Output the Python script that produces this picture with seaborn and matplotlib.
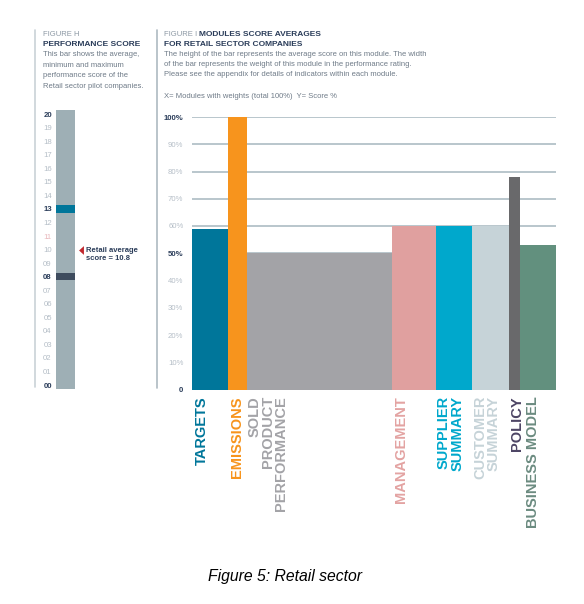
import numpy as np
import pandas as pd
import matplotlib
matplotlib.use("Agg")
import matplotlib.pyplot as plt
import matplotlib.transforms as mtransforms
from matplotlib.lines import Line2D
import seaborn as sns

# ---------------- data ----------------
modules = ["TARGETS", "EMISSIONS", "SOLD\nPRODUCT\nPERFORMANCE", "MANAGEMENT",
           "SUPPLIER\nSUMMARY", "CUSTOMER\nSUMMARY", "POLICY", "BUSINESS MODEL"]
weights = [10, 5, 40, 12, 10, 10, 3, 10]          # % weight (bar width)
scores = [59, 100, 50, 60, 60, 60, 78, 53]        # average score % (bar height)
bar_colors = ["#00769A", "#F7941D", "#A3A3A7", "#E0A09F",
              "#00A8CC", "#C6D3D8", "#69696B", "#62907E"]
label_colors = ["#00769A", "#F7941D", "#A3A3A7", "#E3A3A2",
                "#00A8CC", "#C6D3D8", "#4D4565", "#6B8B80"]
y_ticks = [0, 10, 20, 30, 40, 50, 60, 70, 80, 90, 100]
y_tick_labels = ["0", "10%", "20%", "30%", "40%", "50%", "60%", "70%", "80%", "90%", "100%"]
y_bold = ["0", "50%", "100%"]

perf_ticks = list(range(0, 21))
perf_tick_labels = [f"{v:02d}" for v in perf_ticks]
perf_bold = ["00", "08", "13", "20"]
perf_min, perf_max, perf_avg = 8, 13, 10.8

NAVY = "#2B3D5A"
LIGHT = "#B5BEC7"
GREYTXT = "#6F7B88"

sns.set_theme(style="white")
plt.rcParams["font.family"] = ["Liberation Sans", "DejaVu Sans"]

W, H = 584, 604
fig = plt.figure(figsize=(W / 100, H / 100), dpi=100)


def px_axes(x0, y0, x1, y1):
    return fig.add_axes([x0 / W, 1 - y1 / H, (x1 - x0) / W, (y1 - y0) / H])


def ftext(x, y, s, **kw):
    return fig.text(x / W, 1 - y / H, s, va="center", ha="left", **kw)


# ---------------- main chart ----------------
ax = px_axes(192, 117, 556, 389.5)
edges = np.concatenate([[0], np.cumsum(weights)])
centers = (edges[:-1] + edges[1:]) / 2
df = pd.DataFrame({"module": modules, "weight": weights, "score": scores, "center": centers})
sns.histplot(data=df, x="center", weights="score", bins=[float(e) for e in edges], ax=ax,
             alpha=1, linewidth=0, stat="count")
for p, c in zip(ax.patches, bar_colors):
    p.set_facecolor(c)
    p.set_edgecolor("none")
    p.set_clip_on(False)
    p.set_zorder(2)
ax.set_xlim(0, 100)
ax.set_ylim(0, 100)
ax.set_yticks(y_ticks)
ax.set_yticklabels(y_tick_labels)
for t in ax.get_yticklabels():
    if t.get_text() in y_bold:
        t.set_color(NAVY)
        t.set_fontweight("bold")
    else:
        t.set_color(LIGHT)
ax.tick_params(axis="y", length=0, pad=6.2, labelsize=5.6)
ax.set_xticks([])
ax.set_xlabel("")
ax.set_ylabel("")
ax.yaxis.grid(True, color="#B9C6CC", lw=1.4, zorder=0)
ax.xaxis.grid(False)
ax.set_axisbelow(True)
for s in ax.spines.values():
    s.set_visible(False)

label_dx = [3, 2, 1, 2, 1, 1, 1, 6]
for i, (lab, col) in enumerate(zip(modules, label_colors)):
    tr = ax.transData + mtransforms.ScaledTranslation(label_dx[i] / 100, -6.5 / 100, fig.dpi_scale_trans)
    ax.text(edges[i], 0, lab, transform=tr, rotation=90, ha="left", va="top",
            multialignment="right", fontsize=10.5, fontweight="bold", color=col,
            linespacing=0.95, clip_on=False)

# ---------------- left performance bar ----------------
axL = px_axes(56, 110, 75, 389)
axL.set_ylim(-0.29, 20.3)
axL.set_xlim(0, 1)
axL.set_facecolor("#9EAFB5")
axL.axhspan(perf_max - 0.27, perf_max + 0.27, color="#00769A", lw=0)
axL.axhspan(perf_min - 0.27, perf_min + 0.27, color="#3E4C5E", lw=0)
axL.set_yticks(perf_ticks)
axL.set_yticklabels(perf_tick_labels)
for t in axL.get_yticklabels():
    if t.get_text() in perf_bold:
        t.set_color(NAVY)
        t.set_fontweight("bold")
    elif t.get_text() == f"{round(perf_avg):02d}":
        t.set_color("#E9B8BC")
    else:
        t.set_color(LIGHT)
axL.tick_params(axis="y", length=0, pad=3, labelsize=5.6)
axL.set_xticks([])
axL.grid(False)
for s in axL.spines.values():
    s.set_visible(False)
tri = [(0.5, 0.9), (-0.5, 0.0), (0.5, -0.9), (0.5, 0.9)]
axL.scatter([1.29], [np.floor(perf_avg)], marker=tri, s=40, color="#C1272D",
            clip_on=False, zorder=5, linewidths=0)
axL.text(1.58, np.floor(perf_avg) - 0.37, f"Retail average\nscore = {perf_avg}",
         ha="left", va="center", fontsize=5.5, fontweight="bold", color=NAVY,
         linespacing=1.35, clip_on=False)

# ---------------- frame lines ----------------
fig.add_artist(Line2D([35 / W, 35 / W], [1 - 30 / H, 1 - 387 / H], color="#C9D2D7", lw=1.2))
fig.add_artist(Line2D([156.7 / W, 156.7 / W], [1 - 30 / H, 1 - 388 / H], color="#AEBAC1", lw=1.2))

# ---------------- headers ----------------
ftext(43, 35, "FIGURE H", fontsize=5.5, color="#8C98A4")
ftext(43, 45, "PERFORMANCE SCORE", fontsize=6.0, fontweight="bold", color=NAVY)
left_desc = ["This bar shows the average,", "minimum and maximum",
             "performance score of the", "Retail sector pilot companies."]
for k, line in enumerate(left_desc):
    ftext(43, 54.5 + k * 10.6, line, fontsize=5.5, color=GREYTXT)

t1 = ftext(164, 35, "FIGURE I ", fontsize=5.5, color="#8C98A4")
fig.canvas.draw()
ax.annotate("MODULES SCORE AVERAGES", xy=(1, 0.5), xycoords=t1, va="center", ha="left",
            fontsize=6.0, fontweight="bold", color=NAVY, annotation_clip=False)
ftext(164, 44.5, "FOR RETAIL SECTOR COMPANIES", fontsize=6.0, fontweight="bold", color=NAVY)
right_desc = ["The height of the bar represents the average score on this module. The width",
              "of the bar represents the weight of this module in the performance rating.",
              "Please see the appendix for details of indicators within each module."]
for k, line in enumerate(right_desc):
    ftext(164, 54.5 + k * 10.2, line, fontsize=5.5, color=GREYTXT)
ftext(164, 96, "X= Modules with weights (total 100%)  Y= Score %", fontsize=5.5, color=GREYTXT)

# ---------------- caption ----------------
fig.text(285 / W, 1 - 577 / H, "Figure 5: Retail sector", ha="center", va="center",
         fontsize=11.3, fontstyle="italic", color="black")

fig.savefig("out.png", dpi=100)
